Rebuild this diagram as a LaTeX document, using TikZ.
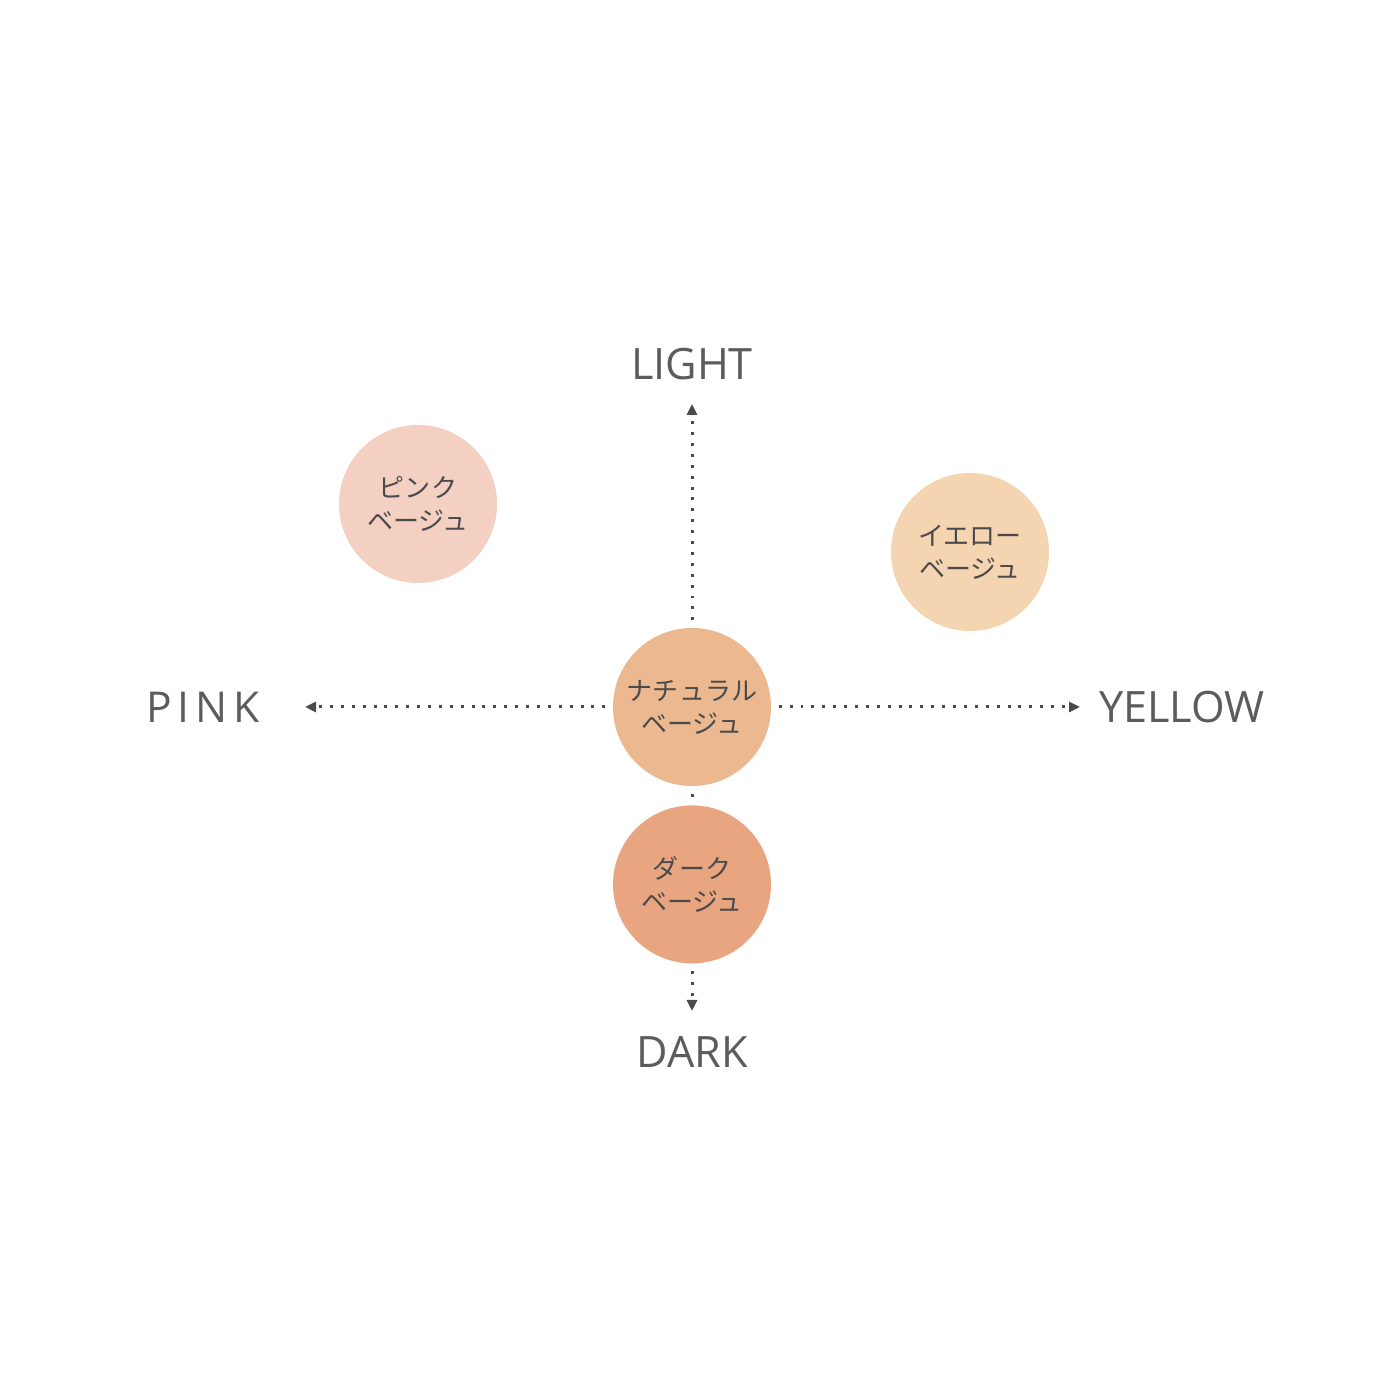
\documentclass[tikz,border=0pt]{standalone}
\usepackage{fontspec}
\setmainfont{Open Sans}
\newfontfamily\jpfont{Noto Sans CJK JP}
\newfontfamily\widefont[LetterSpace=14]{Open Sans}
\usetikzlibrary{arrows.meta,positioning}

\definecolor{inkgray}{HTML}{4A4A4A}
\definecolor{pinkbeige}{HTML}{F3D0C2}
\definecolor{yellowbeige}{HTML}{F5D4B1}
\definecolor{naturalbeige}{HTML}{ECB88F}
\definecolor{darkbeige}{HTML}{E8A57F}

\begin{document}
\begin{tikzpicture}[x=1cm,y=1cm,
  shade/.style={circle,minimum size=1.58cm,inner sep=0pt,text=inkgray,
    align=center,font=\jpfont\fontsize{7.4pt}{9.4pt}\selectfont},
  axisline/.style={draw=inkgray,line width=0.85pt,dash pattern=on 0.85pt off 2.25pt,
    shorten <=0.07cm},
  axistip/.style={-{Triangle[length=0.11cm,width=0.1cm]}},
  pole/.style={text=inkgray!90,font=\fontsize{12.3pt}{15pt}\selectfont,inner sep=0pt}]

\useasboundingbox[fill=white] (0,0) rectangle (14,14);

\node[shade,fill=naturalbeige] (nat) at (6.92,6.93) {ナチュラル\\ベージュ};
\node[shade,fill=darkbeige] (dark) [below=0.18cm of nat] {ダーク\\ベージュ};
\node[shade,fill=pinkbeige] (pink) at (4.18,8.96) {ピンク\\ベージュ};
\node[shade,fill=yellowbeige] (yellow) at (9.70,8.48) {イエロー\\ベージュ};

\coordinate (lightend) at (6.92,9.96);
\coordinate (darkend) at (6.92,3.89);
\coordinate (pinkend) at (3.05,6.93);
\coordinate (yellowend) at (10.80,6.93);

\node[pole] (light) at (6.92,10.36) {LIGHT};
\node[pole] (darklbl) at (6.92,3.48) {DARK};
\node[pole,font=\widefont\fontsize{12.1pt}{15pt}\selectfont] (pinklbl) at (2.03,6.93) {PINK};
\node[pole] (yellowlbl) at (11.82,6.93) {YELLOW};

\path
(nat) edge [axisline,axistip] (lightend)
      edge [axisline,axistip] (pinkend)
      edge [axisline,axistip] (yellowend)
      edge [axisline,shorten >=0.04cm] (dark)
(dark) edge [axisline,axistip] (darkend);
\end{tikzpicture}
\end{document}
